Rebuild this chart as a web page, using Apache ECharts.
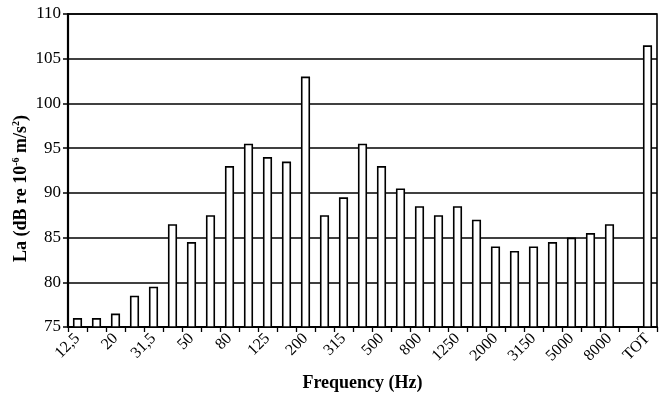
<!DOCTYPE html>
<html>
<head>
<meta charset="utf-8">
<script src="https://cdn.jsdelivr.net/npm/echarts@6/dist/echarts.min.js"></script>
<style>
  html, body { margin: 0; padding: 0; background: #fff; }
  #chart { width: 662px; height: 396px; }
</style>
</head>
<body>
<div id="chart"></div>
<script>
// 1/3 倍频程中心频率
const bands = ['12,5', '16', '20', '25', '31,5', '40', '50', '63', '80', '100', '125', '160', '200', '250',
    '315', '400', '500', '630', '800', '1000', '1250', '1600', '2000', '2500', '3150', '4000', '5000',
    '6300', '8000', '10000', 'TOT'];

// 各频带加速度级 (dB)
const levels = [76, 76, 76.5, 78.5, 79.5, 86.5, 84.5, 87.5, 93, 95.5, 94, 93.5, 103, 87.5,
    89.5, 95.5, 93, 90.5, 88.5, 87.5, 88.5, 87, 84, 83.5, 84, 84.5, 85,
    85.5, 86.5, null, 106.5];

const yMin = 75, yMax = 110, yStep = 5;

const font = 'Liberation Serif';

let myChart = echarts.init(document.getElementById('chart'));

myChart.setOption({
    animation: false,
    grid: {
        left: 68,
        right: 5,
        top: 14,
        bottom: 69,
        outerBoundsMode: 'none',
        show: true,
        borderColor: '#000',
        borderWidth: 1.6
    },
    xAxis: {
        type: 'category',
        data: bands,
        name: 'Frequency (Hz)',
        nameLocation: 'middle',
        nameGap: 47,
        nameMoveOverlap: false,
        nameTextStyle: { fontFamily: font, fontWeight: 'bold', fontSize: 18, color: '#000' },
        axisLine: { lineStyle: { color: '#000', width: 2 } },
        axisTick: { show: true, interval: 0, length: 5, lineStyle: { color: '#000', width: 1.3 } },
        axisLabel: {
            interval: 1,
            rotate: 45,
            margin: 9,
            fontFamily: font,
            fontSize: 16,
            color: '#000'
        }
    },
    yAxis: {
        type: 'value',
        min: yMin,
        max: yMax,
        interval: yStep,
        name: '{a|La (dB re 10}{s|-6}{a| m/s}{s|2}{a|)}',
        nameLocation: 'middle',
        nameRotate: 90,
        nameGap: 37,
        nameMoveOverlap: false,
        nameTextStyle: {
            padding: [0, 36, 0, 0],
            rich: {
                a: { fontFamily: font, fontWeight: 'bold', fontSize: 18, color: '#000', lineHeight: 20 },
                s: { fontFamily: font, fontWeight: 'bold', fontSize: 10, color: '#000', lineHeight: 20, verticalAlign: 'top' }
            }
        },
        axisLine: { show: true, lineStyle: { color: '#000', width: 2.2 } },
        axisTick: { show: true, length: 5, lineStyle: { color: '#000', width: 1.5 } },
        axisLabel: { margin: 7, fontFamily: font, fontSize: 17, color: '#000' },
        splitLine: { lineStyle: { color: '#000', width: 1.6 } }
    },
    series: [
        {
            type: 'bar',
            data: levels,
            barCategoryGap: '52%',
            itemStyle: { color: '#fff', borderColor: '#000', borderWidth: 1.6 }
        }
    ]
});

window.addEventListener('resize', () => {
    myChart.resize();
});
</script>
</body>
</html>
